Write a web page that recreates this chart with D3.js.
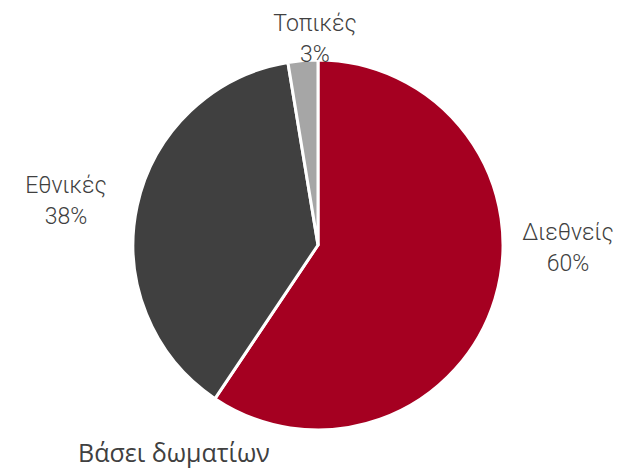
<!DOCTYPE html>
<html>
<head>
<meta charset="utf-8">
<script src="https://cdn.jsdelivr.net/npm/d3@7"></script>
<style>
  body { margin: 0; background: #fff; }
  text { font-family: Roboto, sans-serif; fill: #404040; }
  .label { font-weight: 300; }
</style>
</head>
<body>
<svg id="pie"></svg>
<script>
var categories = ["Διεθνείς", "Εθνικές", "Τοπικές"];
var values = [59.4, 38.0, 2.6];
var pctLabels = ["60%", "38%", "3%"];
var colors = ["#A50021", "#404040", "#A6A6A6"];
var title = "Βάσει δωματίων";

var width = 619, height = 469,
    cx = 318, cy = 245, radius = 185;

var svg = d3.select("#pie")
    .attr("width", width)
    .attr("height", height);

var data = categories.map(function(c, i) {
  return {name: c, value: values[i], pct: pctLabels[i], color: colors[i]};
});

var pie = d3.pie()
    .sort(null)
    .value(function(d) { return d.value; });

var arc = d3.arc()
    .innerRadius(0)
    .outerRadius(radius);

var g = svg.append("g")
    .attr("transform", "translate(" + cx + "," + cy + ")");

var arcs = pie(data);

g.selectAll("path")
    .data(arcs)
  .enter().append("path")
    .attr("d", arc)
    .attr("fill", function(d) { return d.data.color; })
    .attr("stroke", "#fff")
    .attr("stroke-width", 3)
    .attr("stroke-linejoin", "round");

// label anchor (center x, first baseline), outside the pie
var labelPos = [[568, 240], [66, 193], [315, 31]];

var labels = svg.selectAll(".label")
    .data(arcs)
  .enter().append("text")
    .attr("class", "label")
    .attr("text-anchor", "middle")
    .style("font-size", "23px");

labels.append("tspan")
    .attr("x", function(d, i) { return labelPos[i][0]; })
    .attr("y", function(d, i) { return labelPos[i][1]; })
    .text(function(d) { return d.data.name; });

labels.append("tspan")
    .attr("x", function(d, i) { return labelPos[i][0]; })
    .attr("y", function(d, i) { return labelPos[i][1] + 31; })
    .text(function(d) { return d.data.pct; });

svg.append("text")
    .attr("x", 78)
    .attr("y", 462)
    .style("font-family", "'Open Sans', sans-serif")
    .style("font-size", "25px")
    .text(title);
</script>
</body>
</html>
